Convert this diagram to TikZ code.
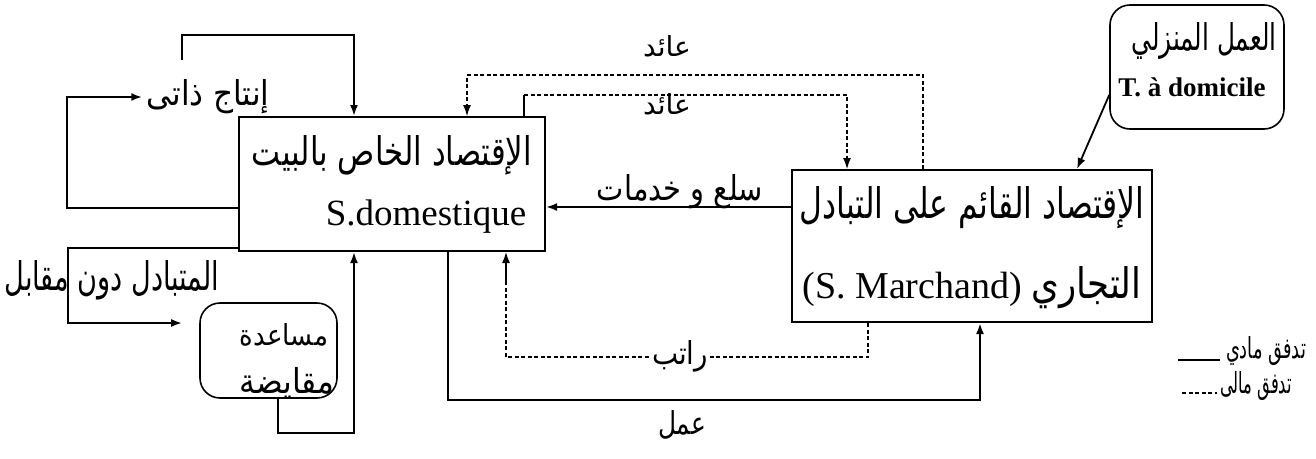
\documentclass[tikz,border=0pt]{standalone}
\usepackage{fontspec}
\usepackage{graphicx}
\setmainfont{Liberation Serif}
\newfontfamily\arfont[Script=Arabic]{DejaVu Sans}
\TeXXeTstate=1
\usetikzlibrary{arrows.meta}
\newcommand{\arwh}[3]{\resizebox{#1pt}{#2pt}{\arfont #3}}
\begin{document}
\begin{tikzpicture}[x=1pt,y=-1pt,
  box/.style={draw, line width=2pt, inner sep=0pt},
  rbox/.style={draw, line width=1.6pt, rounded corners=20pt, inner sep=0pt},
  lbl/.style={inner sep=1pt},
  flow/.style={line width=2.2pt, -{Latex[length=11pt,width=8pt]}},
  money/.style={line width=1.1pt, dash pattern=on 4pt off 2.5pt, -{Latex[length=11pt,width=8pt]}},
  thinflow/.style={line width=1.5pt, -{Latex[length=11pt,width=8pt]}}]
\fill[white] (0,0) rectangle (1316,458);
\useasboundingbox (0,0) rectangle (1316,458);

% boxes
\node[box, minimum width=306pt, minimum height=134pt] (dom) at (392,184) {};
\node[box, minimum width=360pt, minimum height=152pt] (mar) at (972,246) {};
\node[rbox, minimum width=137pt, minimum height=95pt] (aid) at (268.5,350.5) {};
\node[rbox, minimum width=174pt, minimum height=124pt] (home) at (1197,67) {};

% texts in boxes
\node[lbl] (domA) at (392,155) {\arwh{280}{30}{\beginR الإقتصاد الخاص بالبيت\endR}};
\node[lbl] (domB) at (426,217) {\fontsize{37pt}{40pt}\selectfont S.domestique};
\node[lbl] (marA) at (972,208) {\arwh{345}{32}{\beginR الإقتصاد القائم على التبادل\endR}};
\node[lbl] (marB) at (972,288) {\fontsize{38pt}{40pt}\selectfont (S. Marchand) \arwh{110}{32}{\beginR التجاري\endR}};
\node[lbl] (aidA) at (284,335) {\arwh{88}{22}{\beginR مساعدة\endR}};
\node[lbl] (aidB) at (287,383) {\arwh{95}{26}{\beginR مقايضة\endR}};
\node[lbl] (homeA) at (1204,41) {\arwh{145}{28}{\beginR العمل المنزلي\endR}};
\node[lbl] (homeB) at (1192,87) {\fontsize{27pt}{30pt}\selectfont\bfseries T. à domicile};

% labels
\node[inner sep=4pt] (prod) at (208,97) {\arwh{123}{26}{\beginR إنتاج ذاتى\endR}};
\node[lbl] (exch) at (112,280) {\arwh{215}{30}{\beginR المتبادل دون مقابل\endR}};
\node[lbl] (goods) at (680,192) {\arwh{166}{26}{\beginR سلع و خدمات\endR}};
\node[lbl] (rev1) at (667,46) {\arwh{48}{21}{\beginR عائد\endR}};
\node[lbl] (rev2) at (667,104) {\arwh{48}{21}{\beginR عائد\endR}};
\node[lbl] (work) at (682,425) {\arwh{48}{24}{\beginR عمل\endR}};

% self production loop
\coordinate (a1) at (67,208);
\draw[flow] (dom.west |- a1) -- (a1) -- (a1 |- prod.west) -- (prod.west);
\coordinate (a2s) at (182,60);
\coordinate (a2) at (182,35);
\coordinate (a3) at (354,35);
\draw[flow] (a2s) -- (a2) -- (a3) -- (a3 |- dom.north);

% exchange without counterpart
\coordinate (b1) at (68,248);
\coordinate (b2) at (68,323);
\draw[flow, shorten >=17pt] (dom.west |- b1) -- (b1) -- (b2) -- (aid.west |- b2);
\coordinate (c1) at (278,433);
\coordinate (c2) at (354,433);
\draw[flow] (aid.south -| c1) -- (c1) -- (c2) -- (c2 |- dom.south);

% work
\coordinate (w1) at (448,400);
\coordinate (w2) at (980,400);
\draw[flow] (dom.south -| w1) -- (w1) -- (w2) -- (w2 |- mar.south);

% salary
\coordinate (s1) at (868,357);
\coordinate (s2) at (506,357);
\coordinate (s3) at (506,283);
\draw[money, -] (mar.south -| s1) -- (s1) -- (s2) -- (s3);
\draw[thinflow] (s3) -- (s3 |- dom.south);
\node[lbl, fill=white] (sal) at (680,356) {\arwh{56}{24}{\beginR راتب\endR}};

% goods and services
\coordinate (g) at (700,207);
\draw[flow] (mar.west |- g) -- (dom.east |- g);

% revenue (outer)
\coordinate (r1) at (923,75);
\coordinate (r2) at (467,75);
\draw[money] (mar.north -| r1) -- (r1) -- (r2) -- (r2 |- dom.north);

% revenue (inner)
\coordinate (q1) at (524,95);
\coordinate (q2) at (847,95);
\draw[line width=1.5pt] (dom.north -| q1) -- (q1);
\draw[money] (q1) -- (q2) -- (q2 |- mar.north);

% home work
\coordinate (h1) at (1110,95);
\coordinate (h2) at (1077,170);
\draw[line width=1.8pt, -{Latex[length=11pt,width=8pt]}] (home.west |- h1) -- (mar.north -| h2);

% legend
\coordinate (L1) at (1178,360);
\coordinate (L2) at (1220,360);
\draw[line width=1.5pt] (L1) -- (L2);
\node[lbl] (leg1) at (1266,351) {\arwh{80}{22}{\beginR تدفق مادي\endR}};
\coordinate (L3) at (1182,393);
\coordinate (L4) at (1217,393);
\draw[line width=1.1pt, dash pattern=on 4pt off 2.5pt] (L3) -- (L4);
\node[lbl] (leg2) at (1256,386) {\arwh{72}{22}{\beginR تدفق مالى\endR}};
\end{tikzpicture}
\end{document}
